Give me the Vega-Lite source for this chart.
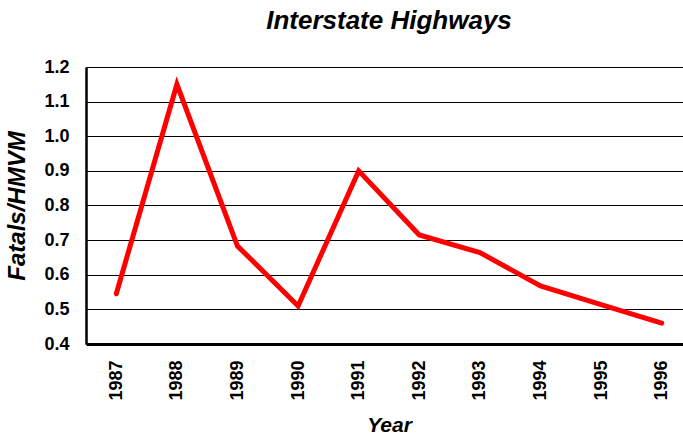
{
  "$schema": "https://vega.github.io/schema/vega-lite/v6.json",
  "autosize": "none",
  "width": 606,
  "height": 277,
  "padding": {"left": 86, "top": 67, "right": 0, "bottom": 92},
  "background": "white",
  "title": {
    "text": "Interstate Highways",
    "font": "Liberation Sans",
    "fontSize": 26,
    "fontWeight": "bold",
    "fontStyle": "italic",
    "color": "black",
    "anchor": "middle",
    "offset": 24
  },
  "data": {
    "values": [
      {"Year": "1987", "Rate": 0.545},
      {"Year": "1988", "Rate": 1.15},
      {"Year": "1989", "Rate": 0.683},
      {"Year": "1990", "Rate": 0.51},
      {"Year": "1991", "Rate": 0.9},
      {"Year": "1992", "Rate": 0.715},
      {"Year": "1993", "Rate": 0.664},
      {"Year": "1994", "Rate": 0.568},
      {"Year": "1995", "Rate": 0.514},
      {"Year": "1996", "Rate": 0.46}
    ]
  },
  "config": {
    "view": {"stroke": null},
    "axis": {
      "labelFont": "Liberation Sans",
      "labelFontWeight": "bold",
      "labelColor": "black",
      "titleFont": "Liberation Sans",
      "titleFontWeight": "bold",
      "titleFontStyle": "italic",
      "titleColor": "black"
    }
  },
  "mark": {"type": "line", "color": "#ff0000", "strokeWidth": 5, "strokeCap": "round"},
  "encoding": {
    "x": {
      "field": "Year",
      "type": "ordinal",
      "scale": {"type": "point", "padding": 0.5},
      "axis": {
        "title": "Year",
        "titleFontSize": 21,
        "titlePadding": 14,
        "labelAngle": -90,
        "labelFontSize": 18,
        "labelPadding": 16,
        "ticks": false,
        "grid": false,
        "domainColor": "black",
        "domainWidth": 3
      }
    },
    "y": {
      "field": "Rate",
      "type": "quantitative",
      "scale": {"domain": [0.4, 1.2], "nice": false, "zero": false},
      "axis": {
        "title": "Fatals/HMVM",
        "titleFontSize": 24,
        "titlePadding": 14,
        "values": [0.4, 0.5, 0.6, 0.7, 0.8, 0.9, 1.0, 1.1, 1.2],
        "format": ".1f",
        "labelFontSize": 18,
        "labelPadding": 17,
        "ticks": false,
        "grid": true,
        "gridColor": "black",
        "gridWidth": 1,
        "gridOpacity": 1,
        "domainColor": "black",
        "domainWidth": 2.5
      }
    }
  }
}
